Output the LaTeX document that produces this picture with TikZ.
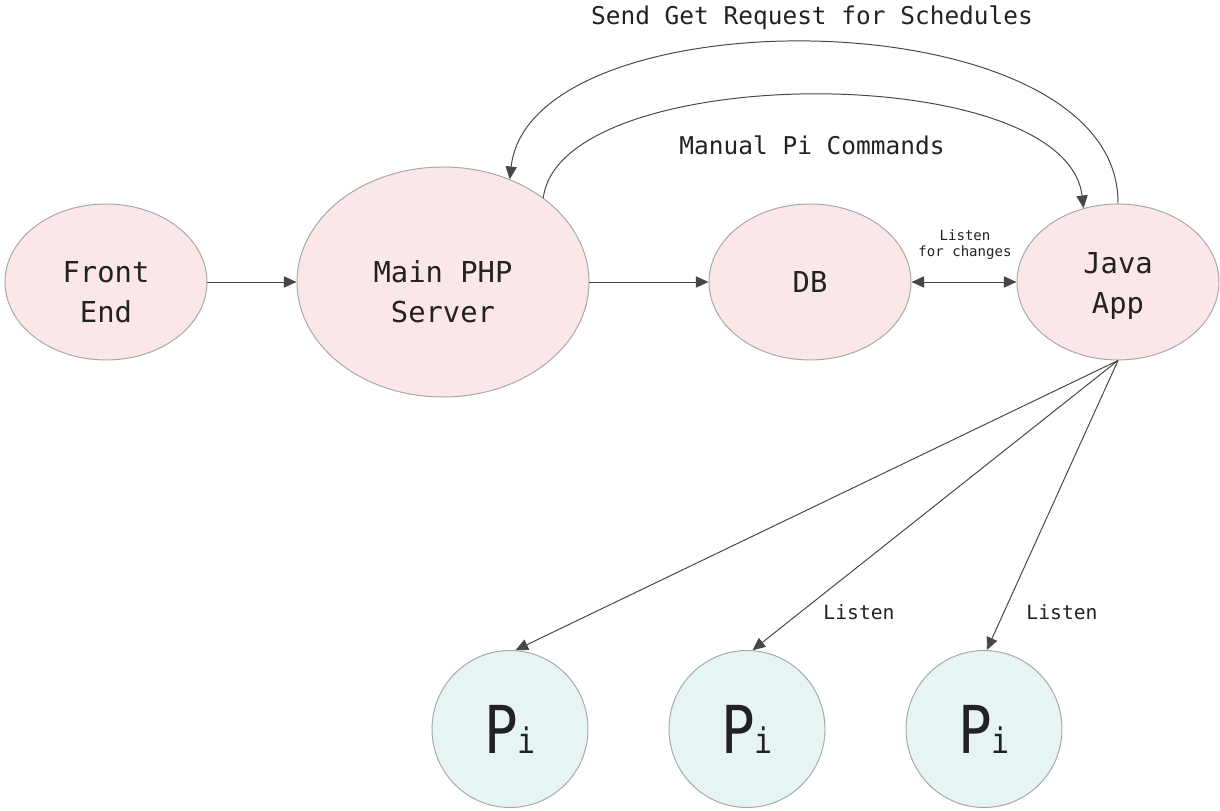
\documentclass[tikz,border=0pt]{standalone}
\usepackage{fontspec}
\setmonofont{DejaVu Sans Mono}
\newfontfamily\pifont[FakeStretch=0.85]{DejaVu Sans Mono}
\usetikzlibrary{arrows.meta,shapes.geometric}
\definecolor{srvpink}{HTML}{FBE7E8}
\definecolor{pifill}{HTML}{E7F4F4}
\definecolor{rimgray}{HTML}{A8A8A8}
\definecolor{linkgray}{HTML}{474747}
\definecolor{inkgray}{HTML}{222222}
\tikzset{
  basenode/.style = {ellipse, align=center, inner sep=0pt, text centered, draw=rimgray, line width=0.7pt, text=inkgray},
  srv_n/.style = {basenode, fill=srvpink, minimum width=5.05cm, minimum height=3.9cm,
    font=\ttfamily\fontsize{20.5}{28.5}\selectfont},
  pi_n/.style = {basenode, fill=pifill, minimum width=3.9cm, minimum height=3.925cm},
  lbl/.style = {inner sep=0pt, text=inkgray, font=\ttfamily\fontsize{17.4}{20}\selectfont},
  lbl_s/.style = {lbl, font=\ttfamily\fontsize{14}{16}\selectfont},
  lbl_xs/.style = {lbl, align=center, font=\ttfamily\fontsize{10}{11.4}\selectfont},
  tip/.tip = {Triangle[length=9pt, width=8pt]},
  link/.style = {draw=linkgray, line width=0.7pt, -tip},
  link2/.style = {link, tip-tip},
}
\newcommand{\padtop}[1]{\rule{0pt}{#1}}
\newcommand{\piname}{{\pifont\fontsize{47}{50}\selectfont P\fontsize{25}{26}\selectfont i}}

\begin{document}
\begin{tikzpicture}
  \useasboundingbox (0,0) rectangle (30.5,-20.275);
  % top row
  \node [srv_n] (front) at (2.65,-7.05) {\padtop{30pt}Front\\End};
  \node [srv_n, minimum width=7.3cm, minimum height=5.75cm] (php) at (11.075,-7.05) {\padtop{30pt}Main PHP\\Server};
  \node [srv_n] (db) at (20.25,-7.05) {DB};
  \node [srv_n] (java) at (27.95,-7.05) {\padtop{20pt}Java\\App};
  % pis
  \node [pi_n] (pia) at (12.75,-18.225) {\piname};
  \node [pi_n] (pib) at (18.675,-18.225) {\piname};
  \node [pi_n] (pic) at (24.6,-18.225) {\piname};

  \draw [link] (front) -- (php);
  \draw [link] (php) -- (db);
  \draw [link2] (db) -- (java);
  \node [lbl_xs] (dblbl) at (24.125,-6.125) {Listen\\for changes};

  \draw [link] (php.40) .. controls +(0.425,3.425) and +(-0.45,3.75) .. (java.115);
  \node [lbl] (manlbl) at (20.3,-3.625) {Manual Pi Commands};
  \draw [link] (java.north) .. controls +(0.05,5.2) and +(0.525,4.7) .. (php.57);
  \node [lbl] (getlbl) at (20.3,-0.45) {Send Get Request for Schedules};

  \draw [link] (java.south) -- (pia.86);
  \draw [link] (java.south) -- (pib.86);
  \draw [link] (java.south) -- (pic.88);
  \node [lbl_s] (lsnb) at (21.475,-15.3) {Listen};
  \node [lbl_s] (lsnc) at (26.55,-15.3) {Listen};
\end{tikzpicture}
\end{document}
